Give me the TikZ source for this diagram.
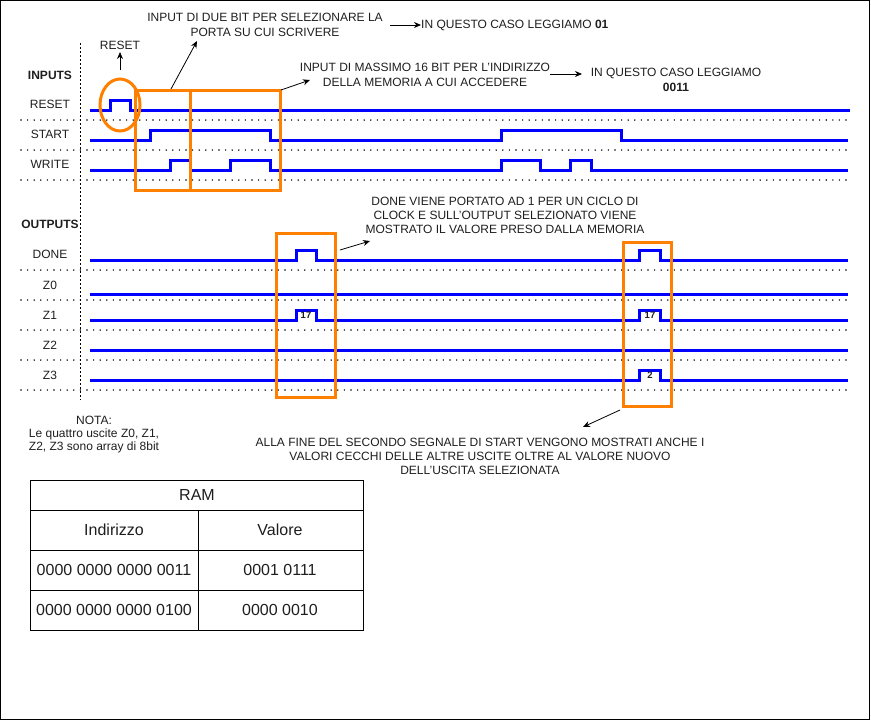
\documentclass[tikz,border=0pt]{standalone}
\usepackage{fontspec}
\setmainfont{Liberation Sans}
\usetikzlibrary{arrows.meta}
\definecolor{sigblue}{RGB}{0,0,255}
\definecolor{orng}{RGB}{255,128,0}
\definecolor{txt}{RGB}{30,30,30}
\begin{document}
\begin{tikzpicture}[x=1pt,y=-1pt,
  sig/.style={draw=sigblue, line width=3pt, line join=miter},
  dotrow/.style={line width=1.6pt, dash pattern=on 0pt off 6.6pt, line cap=round},
  obox/.style={draw=orng, line width=3pt},
  arr/.style={-{Stealth[length=7pt,width=6pt]}, line width=0.8pt},
  lbl/.style={font=\fontsize{12}{14}\selectfont, inner sep=0pt, text=txt},
  blbl/.style={font=\fontsize{12}{14}\selectfont\bfseries, inner sep=0pt, text=txt},
  val/.style={font=\fontsize{9.5}{10}\selectfont\bfseries, inner sep=0pt, text=txt},
  tcell/.style={font=\fontsize{16}{19}\selectfont, inner sep=0pt, text=txt}]
\useasboundingbox (0,0) rectangle (871,721);
\draw[line width=1.3pt] (0.7,0.7) rectangle (869.5,719.5);

% vertical separator
\draw[line width=0.8pt, dash pattern=on 2pt off 2pt] (80,43) -- (80,400);

% dotted row separators
\foreach \yy in {120,150,180,270,300,330,360,390}
  \draw[dotrow] (21,\yy) -- (850,\yy);

% labels
\node[blbl] (inputs) at (50,75) {INPUTS};
\node[lbl] (lreset) at (50,104) {RESET};
\node[lbl] (lstart) at (50,134) {START};
\node[lbl] (lwrite) at (50,164) {WRITE};
\node[blbl] (outputs) at (50,224) {OUTPUTS};
\node[lbl] (ldone) at (50,254) {DONE};
\node[lbl] (lz0) at (50,285) {Z0};
\node[lbl] (lz1) at (50,315) {Z1};
\node[lbl] (lz2) at (50,345) {Z2};
\node[lbl] (lz3) at (50,375) {Z3};

% signals
\draw[sig] (90,110) -- (110,110) -- (110,100) -- (130,100) -- (130,110) -- (850,110);
\draw[sig] (90,140) -- (150,140) -- (150,130) -- (270,130) -- (270,140) -- (501,140) -- (501,130) -- (621,130) -- (621,140) -- (848,140);
\draw[sig] (90,170) -- (170,170) -- (170,160) -- (190,160) -- (190,170) -- (230,170) -- (230,160) -- (270,160) -- (270,170) -- (501,170) -- (501,160) -- (540,160) -- (540,170) -- (570,170) -- (570,160) -- (591,160) -- (591,170) -- (848,170);
\draw[sig] (90,260) -- (296,260) -- (296,250) -- (316,250) -- (316,260) -- (639,260) -- (639,250) -- (660,250) -- (660,260) -- (848,260);
\draw[sig] (90,294) -- (848,294);
\draw[sig] (90,320) -- (296,320) -- (296,310) -- (316,310) -- (316,320) -- (639,320) -- (639,310) -- (660,310) -- (660,320) -- (848,320);
\draw[sig] (90,350) -- (848,350);
\draw[sig] (90,380) -- (639,380) -- (639,370) -- (660,370) -- (660,380) -- (848,380);
\node[val] (v17a) at (306,315.5) {17};
\node[val] (v17b) at (650,315.5) {17};
\node[val] (v2) at (650,375.5) {2};

% orange highlights
\draw[obox] (120,105) ellipse [x radius=20, y radius=26];
\draw[obox] (135,90) rectangle (190,190);
\draw[obox] (190,90) rectangle (280,190);
\draw[obox] (276,233) rectangle (335,397);
\draw[obox] (623,242) rectangle (671,406);

% annotation texts
\node[lbl] (treset) at (120,45) {RESET};
\node[lbl, align=center, font=\fontsize{12}{15}\selectfont] (tdue) at (265,24.5) {INPUT DI DUE BIT PER SELEZIONARE LA\\PORTA SU CUI SCRIVERE};
\node[lbl, anchor=west] (t01) at (421,25) {IN QUESTO CASO LEGGIAMO \textbf{01}};
\node[lbl, align=center, font=\fontsize{12}{14.5}\selectfont] (tmax) at (425,75) {INPUT DI MASSIMO 16 BIT PER L'INDIRIZZO\\DELLA MEMORIA A CUI ACCEDERE};
\node[lbl, align=center, font=\fontsize{12}{14.5}\selectfont] (t0011) at (676,80) {IN QUESTO CASO LEGGIAMO\\\textbf{0011}};
\node[lbl, align=center, font=\fontsize{12}{14}\selectfont] (tdone) at (505,215) {DONE VIENE PORTATO AD 1 PER UN CICLO DI\\CLOCK E SULL'OUTPUT SELEZIONATO VIENE\\MOSTRATO IL VALORE PRESO DALLA MEMORIA};
\node[lbl, align=center, font=\fontsize{12}{14}\selectfont] (tfine) at (480,456) {ALLA FINE DEL SECONDO SEGNALE DI START VENGONO MOSTRATI ANCHE I\\VALORI CECCHI DELLE ALTRE USCITE OLTRE AL VALORE NUOVO\\DELL'USCITA SELEZIONATA};
\node[lbl, align=center, font=\fontsize{12}{13}\selectfont] (tnota) at (94,435) {NOTA:\\Le quattro uscite Z0, Z1,\\Z2, Z3 sono array di 8bit};

% connector end points
\coordinate (eA) at (120,70);
\coordinate (eA2) at (120,52);
\coordinate (bA) at (171,89);
\coordinate (bA2) at (197,41);
\coordinate (c1) at (390,25);
\coordinate (bB) at (281,90);
\coordinate (bB2) at (310,80);
\coordinate (c2) at (550,74);
\coordinate (c2b) at (582,74);
\coordinate (bC) at (340,250);
\coordinate (bC2) at (370,241);
\coordinate (bD) at (620,410);
\coordinate (bD2) at (583,427);

\draw[arr] (eA) -- (eA2);
\draw[arr] (bA) -- (bA2);
\draw[arr] (c1) -- (t01.west);
\draw[arr] (bB) -- (bB2);
\draw[arr] (c2) -- (c2b);
\draw[arr] (bC) -- (bC2);
\draw[arr] (bD) -- (bD2);

% RAM table
\draw[line width=0.9pt] (30,480) rectangle (363,630);
\draw[line width=0.9pt] (30,510) -- (363,510);
\draw[line width=0.9pt] (30,550) -- (363,550);
\draw[line width=0.9pt] (30,590) -- (363,590);
\draw[line width=0.9pt] (198,510) -- (198,630);
\node[tcell] (ram) at (197,495) {RAM};
\node[tcell] (hind) at (114,530) {Indirizzo};
\node[tcell] (hval) at (280,530) {Valore};
\node[tcell] (a1) at (114,570) {0000 0000 0000 0011};
\node[tcell] (v1) at (280,570) {0001 0111};
\node[tcell] (a2) at (114,610) {0000 0000 0000 0100};
\node[tcell] (v2b) at (280,610) {0000 0010};
\end{tikzpicture}
\end{document}
